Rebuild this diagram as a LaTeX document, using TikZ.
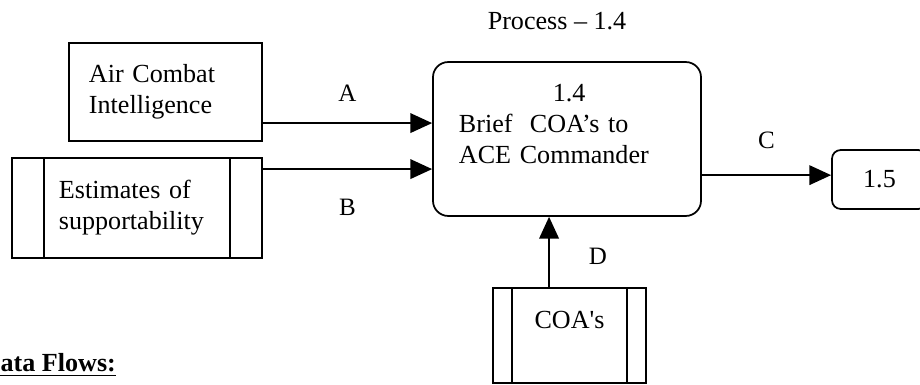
\documentclass[tikz,border=0pt]{standalone}
\usepackage{fontspec}
\setmainfont{Liberation Serif}
\newfontfamily\plainserif{Liberation Serif}[Ligatures=TeXOff]
\usetikzlibrary{arrows.meta, positioning}

\begin{document}
\begin{tikzpicture}[x=0.46pt, y=-0.46pt, line width=0.8pt,
    txt/.style={font=\fontsize{12}{14.2}\selectfont},
    lbl/.style={font=\fontsize{11.5}{13}\selectfont},
    box/.style={draw, txt, align=left, inner xsep=0pt, inner ysep=0pt},
    store/.style={box, path picture={
        \draw ([xshift=#1]path picture bounding box.north west) -- ([xshift=#1]path picture bounding box.south west);
        \draw ([xshift=-#1]path picture bounding box.north east) -- ([xshift=-#1]path picture bounding box.south east);}},
    proc/.style={box, rounded corners=7pt},
    flow/.style={-{Triangle[length=10pt,width=9pt]}}]
    \useasboundingbox (0,0) rectangle (920,385);

    \node[box, minimum width=88.8pt, minimum height=45.1pt, text width=70.4pt] (aci) at (165.5,92) {Air Combat\\Intelligence};
    \node[store=14.7pt, minimum width=115pt, minimum height=46pt, text width=71.8pt] (est) at (137,208) {Estimates of\\supportability};
    \node[proc, minimum width=123.3pt, minimum height=70.8pt, text width=99.4pt] (p14) at (567,139) {\hspace*{43.2pt}1.4\\Brief\ \ COA’s to\\ACE Commander\\\mbox{}};
    \node[proc, rounded corners=4pt, align=center, minimum width=43.7pt, minimum height=27.1pt] (p15) at (879.5,179.5) {1.5};
    \node[store=8.7pt, align=center, minimum width=70.4pt, minimum height=43.7pt] (coa) at (569.5,335.5) {{\plainserif COA's}\\\mbox{}};

    \node[txt] (title) at (557,21) {Process -- 1.4};
    \node[txt, font=\fontsize{12}{14}\selectfont\bfseries, anchor=base east] (flows) at (124,372) {\underline{Data Flows:}};

    \draw[flow] ([yshift=-14.3pt]aci.east) -- ([yshift=-14.3pt]aci.east -| p14.west) node[lbl, midway, yshift=13.8pt] {A};
    \draw[flow] ([yshift=17.9pt]est.east) -- ([yshift=17.9pt]est.east -| p14.west) node[lbl, midway, yshift=-17.5pt] {B};
    \draw[flow] ([yshift=2pt]p15.west -| p14.east) -- ([yshift=2pt]p15.west) node[lbl, midway, yshift=16pt] {C};
    \draw[flow] ([xshift=-9.4pt]coa.north) -- ([xshift=-9.4pt]coa.north |- p14.south) node[lbl, midway, xshift=22.5pt, yshift=-2pt] {D};
\end{tikzpicture}
\end{document}
